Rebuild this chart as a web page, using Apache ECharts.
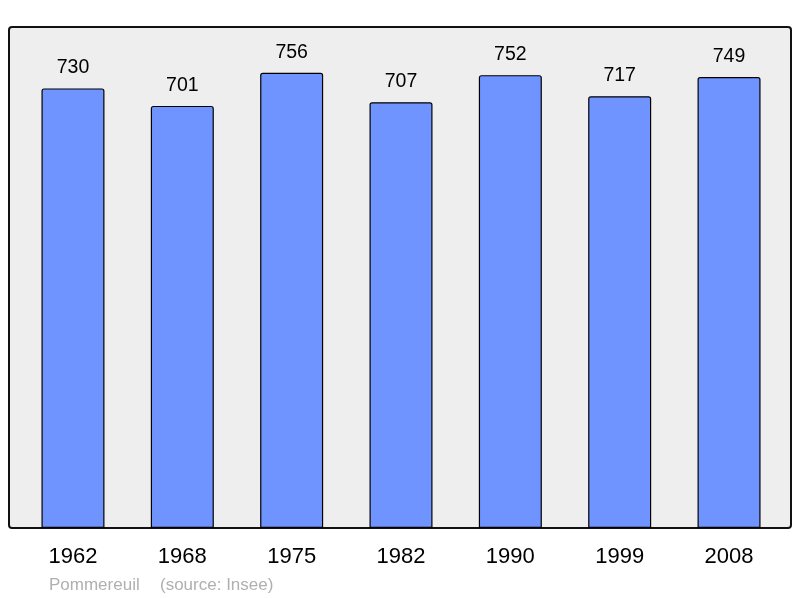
<!DOCTYPE html>
<html>
<head>
<meta charset="utf-8">
<script src="https://cdn.jsdelivr.net/npm/echarts@6/dist/echarts.min.js"></script>
<style>
  html, body { margin: 0; padding: 0; background: #fff; }
  #chart { width: 800px; height: 598px; }
</style>
</head>
<body>
<div id="chart"></div>
<script>
var years = ['1962', '1968', '1975', '1982', '1990', '1999', '2008'];
var population = [730, 701, 756, 707, 752, 717, 749];

var chart = echarts.init(document.getElementById('chart'));

chart.setOption({
    animation: false,
    grid: { left: 18.3, right: 16.3, top: 27, bottom: 70 },
    graphic: [
        {
            type: 'rect',
            z: -10,
            shape: { x: 9, y: 27, width: 782, height: 501, r: 3 },
            style: { fill: '#eeeeee', stroke: '#111', lineWidth: 2 }
        },
        {
            type: 'text', left: 49, top: 577,
            style: { text: 'Pommereuil', fill: '#b0b0b0', font: '17px "Liberation Sans", Arial, sans-serif' }
        },
        {
            type: 'text', left: 160, top: 577,
            style: { text: '(source: Insee)', fill: '#b0b0b0', font: '17px "Liberation Sans", Arial, sans-serif' }
        }
    ],
    xAxis: {
        type: 'category',
        data: years,
        axisLine: { show: false },
        axisTick: { show: false },
        axisLabel: {
            margin: 18,
            color: '#000',
            fontSize: 22,
            fontFamily: '"Liberation Sans", Arial, sans-serif'
        }
    },
    yAxis: {
        type: 'value',
        min: 0,
        max: 832,
        show: false,
        splitLine: { show: false }
    },
    series: [{
        type: 'bar',
        data: population,
        barWidth: 63,
        itemStyle: {
            color: '#7094ff',
            borderColor: '#000',
            borderWidth: 1.2,
            borderRadius: [2, 2, 0, 0]
        },
        label: {
            show: true,
            position: 'top',
            distance: 10.5,
            color: '#000',
            fontSize: 19.5,
            fontFamily: '"Liberation Sans", Arial, sans-serif'
        }
    }]
});
</script>
</body>
</html>
